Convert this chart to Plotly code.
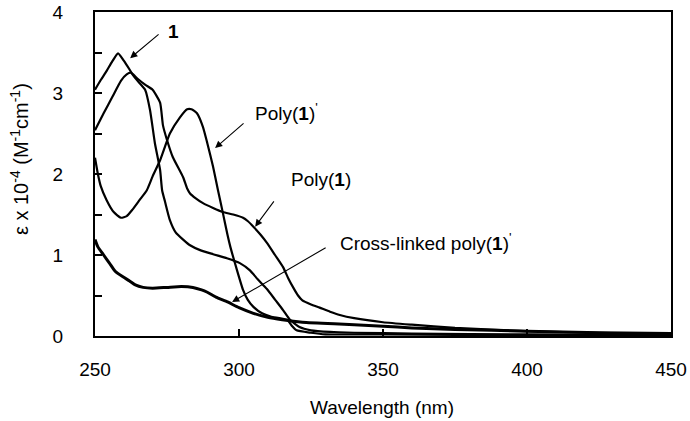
import plotly.graph_objects as go

# ---- data ----
wl_1 = [250, 252, 254, 256, 258, 260, 262, 263.2, 265, 267.4, 269.1, 270.8, 272.6, 273.3, 274.3,
        276, 278, 280.6, 283, 286.5, 291, 295.8, 300.3, 303.8, 306.5, 309.7, 312.5, 315.3,
        317.7, 321, 325, 331.6, 340, 360, 400, 450]
eps_1 = [3.04, 3.16, 3.27, 3.39, 3.49, 3.40, 3.29, 3.22, 3.14, 3.04, 2.79, 2.38, 2.05, 1.80, 1.66,
         1.43, 1.28, 1.19, 1.12, 1.06, 1.01, 0.96, 0.90, 0.81, 0.70, 0.58, 0.45, 0.32,
         0.20, 0.11, 0.07, 0.05, 0.04, 0.03, 0.02, 0.01]

wl_p = [250, 253, 256, 259, 261, 262.5, 263.5, 265, 267.5, 270, 272.6, 273.6, 275, 277, 280.6, 282,
        283, 285, 287.5, 291, 294.4, 298, 301.4, 303, 305, 307.5, 309.7, 312.5, 315.3, 317,
        318.8, 320.5, 322, 325, 328, 331.6, 335, 340, 350, 360, 375, 400, 425, 450]
eps_p = [2.54, 2.75, 2.95, 3.15, 3.23, 3.25, 3.22, 3.17, 3.10, 3.04, 2.88, 2.60, 2.42, 2.21, 1.96, 1.82,
         1.76, 1.70, 1.64, 1.58, 1.53, 1.50, 1.46, 1.42, 1.35, 1.25, 1.15, 1.00, 0.85, 0.72,
         0.60, 0.50, 0.44, 0.39, 0.35, 0.30, 0.26, 0.22, 0.17, 0.14, 0.10, 0.06, 0.04, 0.02]

wl_pp = [250, 251, 252, 254, 256.5, 259, 261, 263, 265.5, 268, 270, 272.6, 276, 279.5, 282, 283.5,
         285.4, 287.5, 289, 291, 292.7, 294.4, 296, 297, 299, 301.4, 303, 305, 308, 311, 316.7,
         318.5, 320, 325, 330, 350, 400, 450]
eps_pp = [2.20, 2.00, 1.85, 1.68, 1.53, 1.46, 1.48, 1.56, 1.68, 1.80, 1.97, 2.17, 2.50, 2.70, 2.80, 2.80,
          2.75, 2.58, 2.38, 2.09, 1.80, 1.52, 1.25, 1.10, 0.85, 0.57, 0.45, 0.36, 0.28, 0.24, 0.20,
          0.12, 0.07, 0.04, 0.02, 0.02, 0.01, 0.01]

wl_x = [250, 251, 253, 255, 257, 259.7, 262, 264, 266.7, 270, 275, 280, 284, 287, 289, 292, 296,
        300, 305, 310, 315, 322, 333, 340, 350, 360, 375, 400, 425, 450]
eps_x = [1.19, 1.10, 1.00, 0.90, 0.80, 0.73, 0.68, 0.63, 0.60, 0.59, 0.60, 0.61, 0.60, 0.57, 0.54,
         0.48, 0.42, 0.35, 0.28, 0.23, 0.20, 0.17, 0.15, 0.14, 0.12, 0.10, 0.08, 0.06, 0.04, 0.03]

x_ticks = [250, 300, 350, 400, 450]
y_ticks = [0, 1, 2, 3, 4]

FONT = "Liberation Sans, Arial, sans-serif"

fig = go.Figure()
series = [(wl_1, eps_1, 2.2), (wl_p, eps_p, 2.2), (wl_pp, eps_pp, 2.2), (wl_x, eps_x, 3)]
for xs, ys, w in series:
    fig.add_trace(go.Scatter(x=xs, y=ys, mode="lines",
                             line=dict(color="black", width=w, shape="spline", smoothing=0.5),
                             showlegend=False, hoverinfo="skip"))

arrows = [
    # (head x, head y, tail x, tail y)
    (262.2, 3.43, 272.6, 3.74),
    (291.7, 2.32, 302.1, 2.64),
    (305.6, 1.35, 312.5, 1.68),
    (297.6, 0.42, 330.6, 1.10),
]
for hx, hy, tx, ty in arrows:
    fig.add_annotation(x=hx, y=hy, ax=tx, ay=ty, xref="x", yref="y", axref="x", ayref="y",
                       text="", showarrow=True, arrowhead=2, arrowsize=1.3, arrowwidth=1.1,
                       arrowcolor="black")

labels = [
    ("<b>1</b>", 274.5, 3.76),
    ("Poly(<b>1</b>)<sup>'</sup>", 304.9, 2.77),
    ("Poly(<b>1</b>)", 317.4, 1.93),
    ("Cross-linked poly(<b>1</b>)<sup>'</sup>", 334.4, 1.16),
]
for t, x, y in labels:
    fig.add_annotation(x=x, y=y, xref="x", yref="y", text=t, showarrow=False,
                       xanchor="left", yanchor="middle",
                       font=dict(family=FONT, size=19, color="black"))

# plot area: 576 x 324 px
fig.add_annotation(x=-0.132, y=0.546, xref="paper", yref="paper", textangle=-90,
                   xanchor="center", yanchor="middle",
                   text="ε x 10<sup>-4</sup> (M<sup>-1</sup>cm<sup>-1</sup>)", showarrow=False,
                   font=dict(family=FONT, size=20, color="black"))
fig.add_annotation(x=0.498, y=-0.222, xref="paper", yref="paper",
                   xanchor="center", yanchor="middle",
                   text="Wavelength (nm)", showarrow=False,
                   font=dict(family=FONT, size=19, color="black"))

axis_common = dict(showline=True, linecolor="black", linewidth=2, mirror=True,
                   showgrid=False, zeroline=False, ticks="inside", tickcolor="black",
                   ticklen=7, tickwidth=2, automargin=False,
                   tickfont=dict(family=FONT, size=19, color="black"))
fig.update_xaxes(range=[250, 450], tickvals=x_ticks, ticklabelstandoff=15, **axis_common)
fig.update_yaxes(range=[0, 4], tickvals=y_ticks, ticklabelstandoff=26,
                 minor=dict(dtick=0.5, ticks="inside", ticklen=7, tickwidth=2, tickcolor="black"),
                 **axis_common)

fig.update_layout(width=690, height=421, margin=dict(l=95, r=19, t=12, b=85, autoexpand=False),
                  paper_bgcolor="white", plot_bgcolor="white",
                  font=dict(family=FONT, color="black"))
fig.write_html("out.html", config={"displayModeBar": False},
               post_script="document.body.style.margin='0';")
